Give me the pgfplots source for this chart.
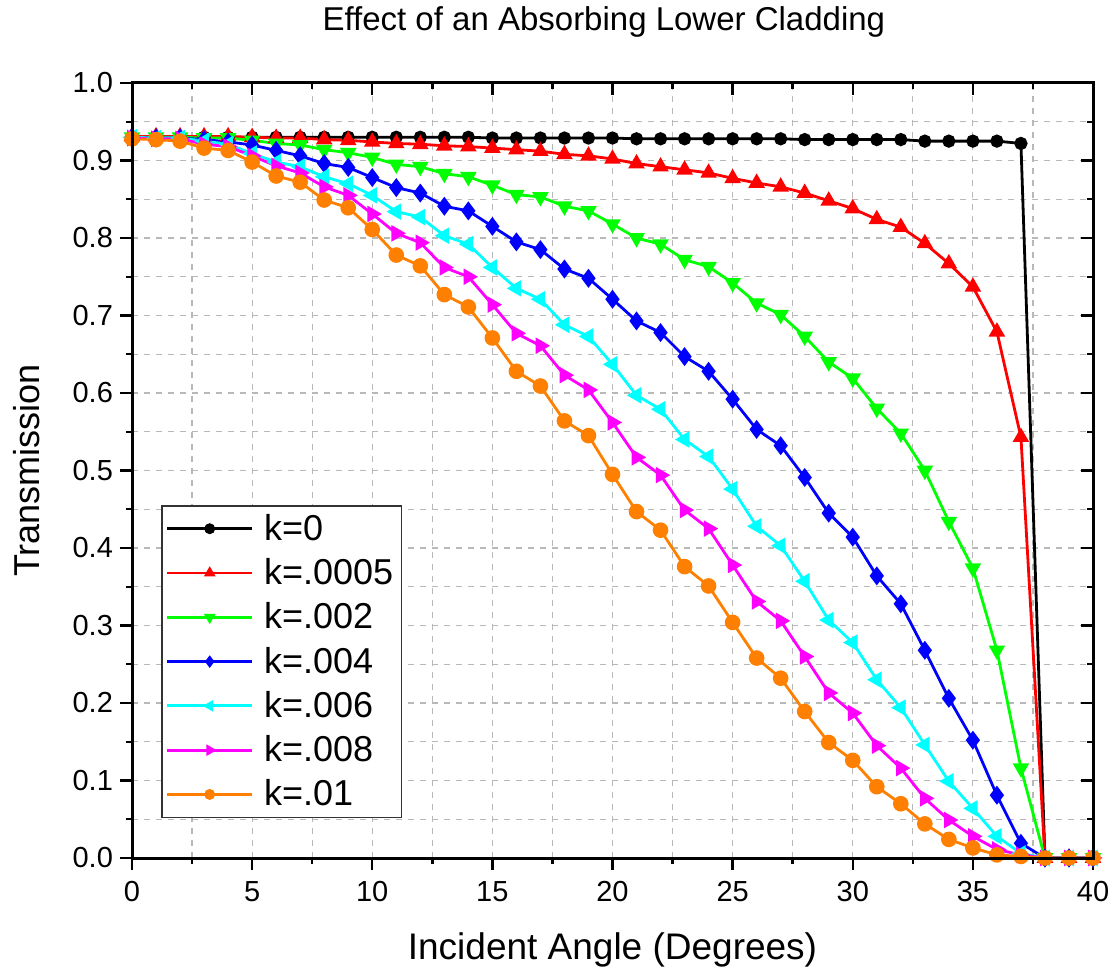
\documentclass[border=0pt]{standalone}
\usepackage{pgfplots}
\pgfplotsset{compat=1.18}
\usepackage{pgfplotstable}
\usepackage{fontspec}
\setmainfont{Liberation Sans}
\definecolor{cOrange}{RGB}{255,128,0}
\definecolor{cGreen}{RGB}{0,255,0}
\definecolor{cCyan}{RGB}{0,255,255}
\definecolor{cMag}{RGB}{255,0,255}
\definecolor{cRed}{RGB}{255,0,0}
\definecolor{cBlue}{RGB}{0,0,255}

\pgfplotstableread{
x  ka    kb    kc    kd    ke    kf    kg
0  0.930 0.931 0.930 0.930 0.930 0.929 0.928
1  0.930 0.931 0.930 0.929 0.929 0.928 0.927
2  0.930 0.931 0.930 0.929 0.929 0.928 0.925
3  0.930 0.931 0.929 0.927 0.925 0.921 0.916
4  0.930 0.931 0.929 0.924 0.921 0.918 0.913
5  0.930 0.930 0.926 0.920 0.909 0.906 0.898
6  0.930 0.929 0.922 0.913 0.898 0.893 0.880
7  0.930 0.929 0.920 0.906 0.892 0.884 0.872
8  0.930 0.927 0.914 0.896 0.879 0.866 0.849
9  0.930 0.926 0.910 0.891 0.870 0.855 0.839
10 0.930 0.924 0.904 0.878 0.855 0.831 0.811
11 0.930 0.922 0.895 0.865 0.834 0.806 0.778
12 0.930 0.921 0.892 0.858 0.827 0.794 0.764
13 0.930 0.919 0.883 0.841 0.803 0.762 0.727
14 0.930 0.918 0.879 0.835 0.792 0.750 0.711
15 0.929 0.916 0.868 0.815 0.762 0.714 0.671
16 0.929 0.914 0.856 0.795 0.735 0.677 0.628
17 0.929 0.912 0.853 0.785 0.721 0.661 0.609
18 0.929 0.908 0.841 0.760 0.688 0.623 0.564
19 0.929 0.906 0.835 0.748 0.673 0.604 0.545
20 0.929 0.902 0.818 0.721 0.637 0.562 0.495
21 0.928 0.896 0.800 0.693 0.597 0.517 0.447
22 0.928 0.892 0.792 0.678 0.579 0.494 0.423
23 0.928 0.888 0.772 0.647 0.540 0.449 0.376
24 0.928 0.884 0.763 0.628 0.518 0.425 0.351
25 0.928 0.877 0.742 0.592 0.476 0.378 0.304
26 0.928 0.871 0.716 0.553 0.428 0.331 0.258
27 0.928 0.866 0.701 0.532 0.403 0.306 0.232
28 0.927 0.858 0.673 0.491 0.357 0.260 0.189
29 0.927 0.848 0.640 0.445 0.307 0.213 0.149
30 0.927 0.838 0.619 0.414 0.278 0.187 0.126
31 0.927 0.824 0.580 0.364 0.230 0.145 0.092
32 0.927 0.814 0.548 0.328 0.194 0.116 0.070
33 0.925 0.793 0.500 0.268 0.146 0.077 0.044
34 0.925 0.767 0.434 0.206 0.099 0.049 0.024
35 0.925 0.737 0.374 0.152 0.064 0.028 0.013
36 0.925 0.679 0.268 0.081 0.028 0.011 0.004
37 0.922 0.543 0.116 0.019 0.006 0.004 0.002
38 0     0     0     0     0     0     0
39 0     0     0     0     0     0     0
40 0     0     0     0     0     0     0
}\data

\begin{document}
\begin{tikzpicture}
\begin{axis}[
  name=main,
  scale only axis, width=480.5pt, height=387.5pt,
  xmin=0, xmax=40, ymin=0, ymax=1,
  xtick={0,5,10,15,20,25,30,35,40},
  ytick={0,0.1,0.2,0.3,0.4,0.5,0.6,0.7,0.8,0.9,1.0},
  minor x tick num=1, minor y tick num=1,
  grid=both,
  major grid style={black!28, dash pattern=on 3pt off 3pt, line width=0.6pt},
  minor grid style={black!28, dash pattern=on 3pt off 3pt, line width=0.6pt},
  xtick pos=bottom, ytick pos=left, tick align=outside,
  major tick length=6pt, minor tick length=3pt,
  every tick/.style={black, line width=1.2pt},
  axis line style={line width=1.5pt},
  /pgf/number format/assume math mode=true,
  yticklabel style={/pgf/number format/fixed, /pgf/number format/fixed zerofill, /pgf/number format/precision=1},
  xticklabel style={yshift=-2pt},
  tick label style={font=\fontsize{14.5}{16}\selectfont},
  every axis title shift=0pt,
  title={Effect of an Absorbing Lower Cladding},
  title style={at={(axis description cs:0.491,1.0787)}, anchor=center, font=\fontsize{16.5}{19}\selectfont},
  xlabel={Incident Angle (Degrees)},
  xlabel style={at={(axis description cs:0.5,-0.118)}, anchor=center, font=\fontsize{18.5}{21}\selectfont},
  ylabel={Transmission},
  ylabel style={at={(axis description cs:-0.1093,0.5)}, anchor=center, font=\fontsize{18}{21}\selectfont},
  legend cell align=left,
  legend style={at={(axis description cs:0.0302,0.4555)}, anchor=north west, draw=black!80, line width=0.8pt,
    font=\fontsize{18}{21}\selectfont, row sep=3.2pt, column sep=3pt, inner sep=2pt,
    nodes={inner sep=2.2pt}},
  legend image post style={mark size=2pt},
  legend image code/.code={\draw[mark repeat=2,mark phase=2] plot coordinates {(0pt,0pt) (21.25pt,0pt) (42.5pt,0pt)};},
  every axis plot/.append style={line width=1.4pt},
]
\addplot[black, mark=*, mark size=2.6pt] table[x=x,y=ka]{\data};
\addlegendentry{k=0}
\addplot[cRed, mark=triangle*, mark size=3.4pt] table[x=x,y=kb]{\data};
\addlegendentry{k=.0005}
\addplot[cGreen, mark=triangle*, mark size=3.4pt, mark options={rotate=180}] table[x=x,y=kc]{\data};
\addlegendentry{k=.002}
\addplot[cBlue, mark=diamond*, mark size=3.6pt] table[x=x,y=kd]{\data};
\addlegendentry{k=.004}
\addplot[cCyan, mark=triangle*, mark size=3.4pt, mark options={rotate=90}] table[x=x,y=ke]{\data};
\addlegendentry{k=.006}
\addplot[cMag, mark=triangle*, mark size=3.4pt, mark options={rotate=-90}] table[x=x,y=kf]{\data};
\addlegendentry{k=.008}
\addplot[cOrange, mark=*, mark size=3.2pt] table[x=x,y=kg]{\data};
\addlegendentry{k=.01}
\coordinate (bbsw) at (rel axis cs:-0.13736,-0.15484);
\coordinate (bbne) at (rel axis cs:1.02289,1.10710);
\end{axis}
\begin{axis}[
  scale only axis, width=480.5pt, height=387.5pt,
  xmin=0, xmax=40, ymin=0, ymax=1,
  xtick={0,5,10,15,20,25,30,35,40},
  ytick={0,0.1,0.2,0.3,0.4,0.5,0.6,0.7,0.8,0.9,1.0},
  minor x tick num=1, minor y tick num=1,
  xtick pos=top, ytick pos=right, tick align=inside,
  major tick length=6pt, minor tick length=3pt,
  every tick/.style={black, line width=1.2pt},
  axis line style={line width=1.5pt},
  xticklabels={}, yticklabels={},
]
\end{axis}
\pgfresetboundingbox
\useasboundingbox (bbsw) rectangle (bbne);
\end{tikzpicture}
\end{document}
